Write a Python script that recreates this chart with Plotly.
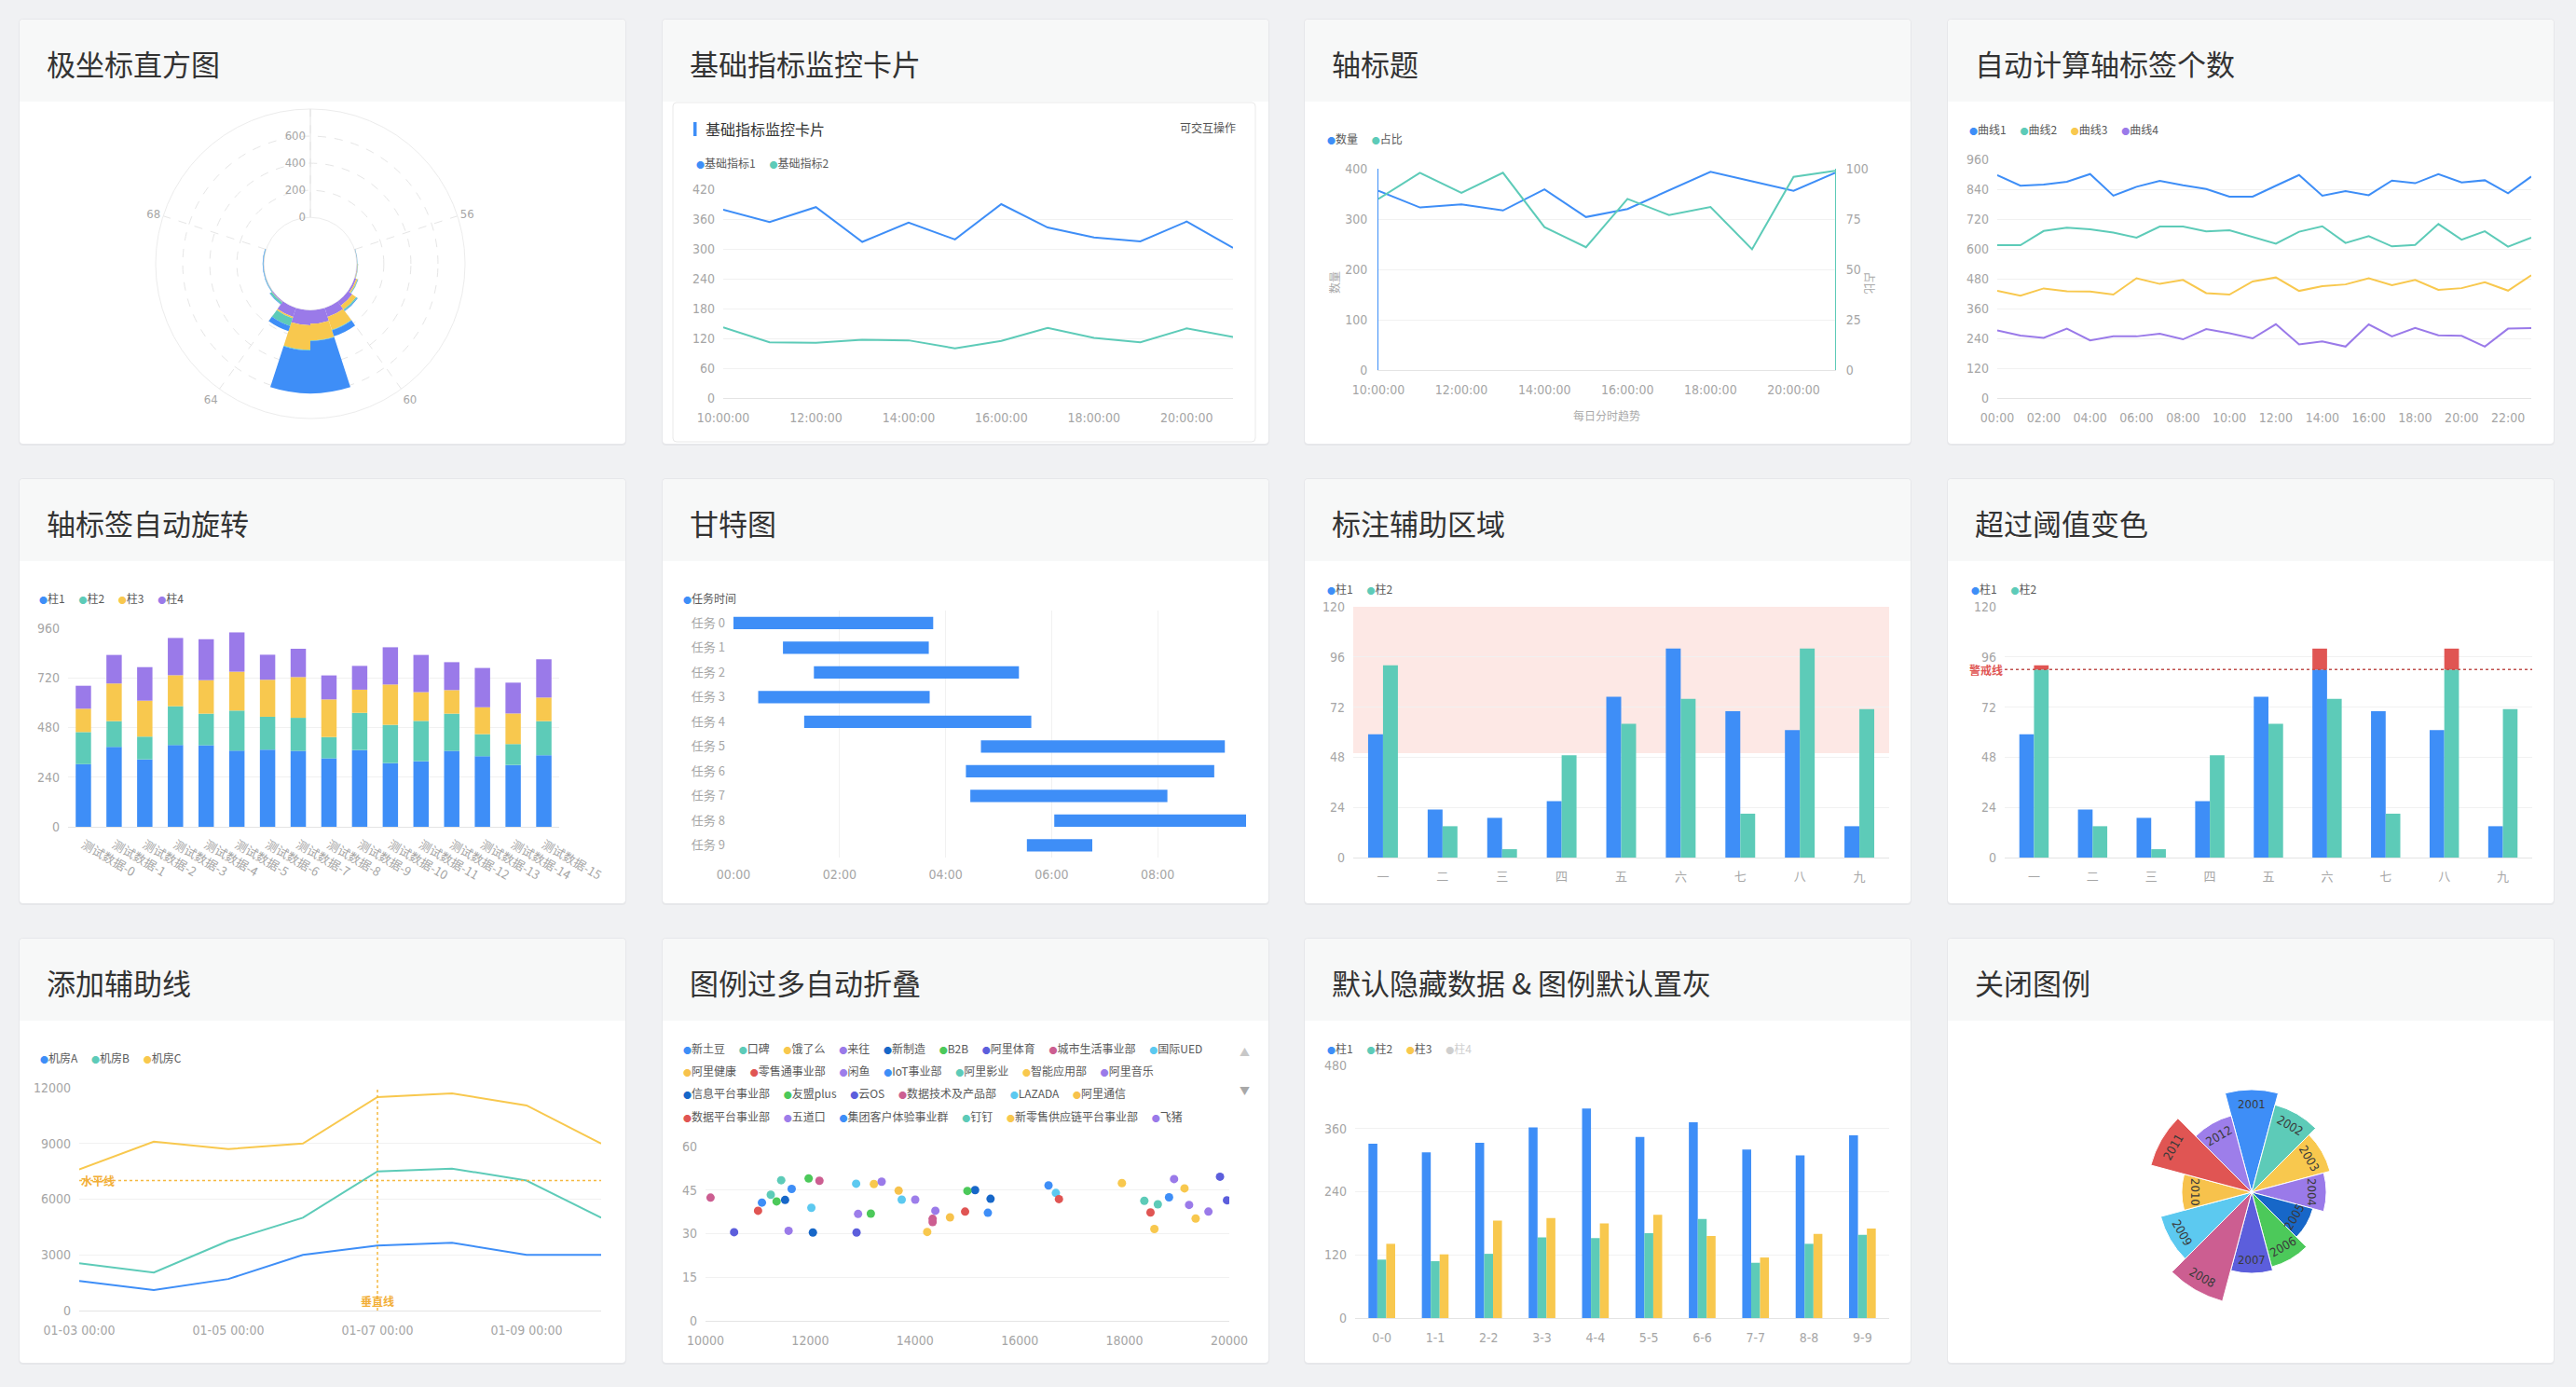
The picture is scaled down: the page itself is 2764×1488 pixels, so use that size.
import math
import plotly.graph_objects as go

W, H = 2764, 1488
def fx(x): return x / W
def fy(y): return 1 - y / H

# ---------------- data ----------------
TITLES = ["极坐标直方图", "基础指标监控卡片", "轴标题", "自动计算轴标签个数",
          "轴标签自动旋转", "甘特图", "标注辅助区域", "超过阈值变色",
          "添加辅助线", "图例过多自动折叠", "默认隐藏数据 & 图例默认置灰", "关闭图例"]

# P1 polar histogram (bin centers, stacked series)
p1_bins = [56.5, 57.5, 58.5, 59.5, 60.5, 61.5, 62.5, 63.5, 64.5, 65.5, 66.5, 67.5]
p1_s4 = [2, 4, 14, 40, 70, 100, 112, 70, 8, 3, 2, 2]
p1_s3 = [1, 3, 10, 35, 100, 123, 181, 10, 2, 1, 1, 1]
p1_s2 = [2, 2, 4, 10, 5, 5, 5, 60, 15, 4, 3, 3]
p1_s1 = [1, 1, 2, 5, 45, 387, 317, 40, 5, 3, 4, 4]
p1_ticks = [52, 56, 60, 64, 68]

# P2
p2_hours = list(range(10, 22))
p2_s1 = [379, 354, 384, 314, 353, 319, 390, 343, 323, 315, 355, 302]
p2_s2 = [142, 112, 111, 117, 116, 100, 115, 141, 121, 112, 140, 123]

# P3
p3_hours = list(range(10, 22))
p3_count = [356, 323, 329, 317, 359, 304, 320, 357, 394, 375, 356, 392]
p3_ratio = [85, 98, 88, 98, 71, 61, 85, 77, 81, 60, 96, 99]

# P4
p4_hours = list(range(0, 24))
p4_c1 = [897, 854, 859, 870, 901, 814, 850, 874, 856, 841, 810, 810, 854, 897, 814, 832, 816, 875, 864, 901, 867, 876, 824, 891]
p4_c2 = [615, 615, 672, 685, 679, 666, 645, 690, 690, 670, 675, 647, 621, 669, 691, 624, 651, 610, 616, 700, 637, 671, 609, 645]
p4_c3 = [431, 412, 441, 429, 428, 416, 482, 459, 475, 422, 416, 469, 485, 431, 450, 457, 482, 454, 475, 435, 442, 466, 432, 494]
p4_c4 = [272, 251, 242, 279, 232, 248, 248, 259, 236, 277, 261, 240, 297, 216, 228, 207, 296, 248, 282, 252, 250, 207, 279, 281]

# P5
p5_cats = [f"测试数据-{i}" for i in range(16)]
p5_s1 = [303, 386, 326, 395, 394, 368, 373, 367, 331, 371, 308, 317, 367, 341, 299, 346]
p5_s2 = [155, 125, 110, 188, 153, 194, 159, 160, 103, 180, 185, 195, 180, 107, 101, 165]
p5_s3 = [113, 182, 174, 150, 162, 188, 179, 197, 182, 112, 195, 139, 114, 130, 148, 114]
p5_s4 = [111, 138, 162, 180, 198, 190, 121, 137, 116, 115, 180, 180, 135, 190, 149, 185]

# P6 gantt
p6_tasks = [f"任务 {i}" for i in range(10)]
p6_start = ["00:00", "00:56", "01:31", "00:28", "01:20", "04:40", "04:23", "04:28", "06:03", "05:32"]
p6_end = ["03:46", "03:41", "05:23", "03:42", "05:37", "09:16", "09:04", "08:11", "09:40", "06:46"]

# P7 / P8
cats9 = ["一", "二", "三", "四", "五", "六", "七", "八", "九"]
bar1 = [59, 23, 19, 27, 77, 100, 70, 61, 15]
bar2 = [92, 15, 4, 49, 64, 76, 21, 100, 71]
p7_region = [50, 120]
p8_threshold = 90

# P9
p9_dates = ["2024-01-03", "2024-01-04", "2024-01-05", "2024-01-06",
            "2024-01-07", "2024-01-08", "2024-01-09", "2024-01-10"]
roomA = [1600, 1100, 1700, 3000, 3500, 3650, 3000, 3000]
roomB = [2550, 2050, 3750, 5000, 7500, 7650, 7000, 5000]
roomC = [7600, 9100, 8700, 9000, 11500, 11700, 11050, 9000]
p9_hline = 7000
p9_vline = "2024-01-07"

# P10 scatter (series -> points)
p10_names = ["新土豆", "口碑", "饿了么", "来往", "新制造", "B2B", "阿里体育", "城市生活事业部", "国际UED",
             "阿里健康", "零售通事业部", "闲鱼", "IoT事业部", "阿里影业", "智能应用部", "阿里音乐",
             "信息平台事业部", "友盟plus", "云OS", "数据技术及产品部", "LAZADA", "阿里通信",
             "数据平台事业部", "五道口", "集团客户体验事业群", "钉钉", "新零售供应链平台事业部", "飞猪"]
p10_x = [[11077, 16549], [11246, 18378], [13215, 17950], [11586, 18946], [11519, 15147], [11357, 15000],
         [10546, 19823], [10096, 14336], [12021, 16689], [13687], [11003, 16748], [12913], [11645, 18850],
         [11445], [14233, 19145], [13363, 19233], [12050, 15442], [11969, 13156], [12884, 19956],
         [12175, 14336], [12876, 13746], [14668], [14956, 18496], [14004], [15391], [18636],
         [18570, 19358], [14388, 19602]]
p10_y = [[40.7, 46.6], [43.4, 41.3], [47.1, 47.4], [31.0, 48.8], [41.6, 45.0], [41.1, 44.7],
         [30.5, 49.6], [42.4, 35.1], [38.9, 44.0], [44.8], [37.9, 41.9], [36.8], [45.4, 42.5],
         [48.4], [30.6, 45.6], [47.9, 39.9], [30.4, 42.0], [49.0, 36.9], [30.4, 41.5],
         [48.2, 34.0], [47.2, 41.7], [35.6], [37.6, 37.3], [41.7], [37.2], [40.1],
         [31.6, 35.2], [37.9, 37.6]]
p10_rows = [9, 7, 6, 6]

# P11
cats10 = [f"{i}-{i}" for i in range(10)]
p11_s1 = [331, 315, 333, 362, 398, 344, 372, 320, 309, 347]
p11_s2 = [111, 108, 122, 153, 152, 161, 188, 105, 141, 158]
p11_s3 = [141, 121, 185, 190, 180, 196, 156, 115, 160, 170]

# P12 rose
years = [str(y) for y in range(2001, 2013)]
rose = [110, 97, 87, 80, 68, 83, 87, 121, 101, 75, 112, 85]

# ---------------- style ----------------
PAGE_BG = "#f0f1f3"
HEAD_BG = "#f7f8f8"
TITLE_C = "#333333"
TICK_C = "#a6a6a6"
GRID_C = "#f1f1f1"
AXLINE_C = "#e4e4e4"
LEG_C = "#595959"
CJK = "Noto Sans CJK SC"
NUM = "Liberation Sans Narrow, DejaVu Sans Condensed, Noto Sans CJK SC"

BLUE = "#3E8EF7"; TEAL = "#5DCBB8"; YELLOW = "#F8C84E"; PURPLE = "#9A7AE9"
DBLUE = "#1767C8"; GREEN = "#4CC95A"; INDIGO = "#5C5EDC"; PINK = "#CC5E91"
LBLUE = "#5CC9F0"; ORANGE = "#F7C24C"; RED = "#E05553"; PURPLE2 = "#9D7EEA"
PALETTE = [BLUE, TEAL, YELLOW, PURPLE, DBLUE, GREEN, INDIGO, PINK, LBLUE, ORANGE, RED, PURPLE2]

COLS = [21, 711, 1400, 2090]
ROWS = [21, 514, 1007]
CW, CH, HEAD = 650, 455, 88

fig = go.Figure()
shapes = []
annos = []

def rpath(x0, y0, x1, y1, r, top_only=False):
    def P(x, y): return f"{fx(x):.6f},{fy(y):.6f}"
    if top_only:
        return (f"M {P(x0, y1)} L {P(x0, y0 + r)} Q {P(x0, y0)} {P(x0 + r, y0)} "
                f"L {P(x1 - r, y0)} Q {P(x1, y0)} {P(x1, y0 + r)} L {P(x1, y1)} Z")
    return (f"M {P(x0 + r, y0)} L {P(x1 - r, y0)} Q {P(x1, y0)} {P(x1, y0 + r)} "
            f"L {P(x1, y1 - r)} Q {P(x1, y1)} {P(x1 - r, y1)} L {P(x0 + r, y1)} "
            f"Q {P(x0, y1)} {P(x0, y1 - r)} L {P(x0, y0 + r)} Q {P(x0, y0)} {P(x0 + r, y0)} Z")

# cards
k = 0
for r in ROWS:
    for c in COLS:
        shapes.append(dict(type="path", path=rpath(c - 1, r - 1, c + CW + 1, r + CH + 2, 5),
                           xref="paper", yref="paper", fillcolor="#e6e7ea", line=dict(width=0), layer="below"))
        shapes.append(dict(type="path", path=rpath(c, r, c + CW, r + CH, 4),
                           xref="paper", yref="paper", fillcolor="#ffffff", line=dict(width=0), layer="below"))
        shapes.append(dict(type="path", path=rpath(c, r, c + CW, r + HEAD, 4, top_only=True),
                           xref="paper", yref="paper", fillcolor=HEAD_BG, line=dict(width=0), layer="below"))
        annos.append(dict(x=fx(c + 27), y=fy(r + 46), xref="paper", yref="paper", text=TITLES[k],
                          xanchor="left", yanchor="middle", showarrow=False,
                          font=dict(family=CJK, size=31, color=TITLE_C)))
        k += 1

def legend(x, y, items, gap="\u3000\u00a0"):
    parts = []
    for col, lab, lc in items:
        parts.append(f"<span style='color:{col};font-size:9px'>●</span><span style='color:{lc}'>{lab}</span>")
    annos.append(dict(x=fx(x), y=fy(y), xref="paper", yref="paper", text=gap.join(parts),
                      xanchor="left", yanchor="middle", showarrow=False,
                      font=dict(family=CJK, size=12, color=LEG_C)))

def tickfont(size=14, fam=NUM):
    return dict(family=fam, size=size, color=TICK_C)

def xa(l, r, anchor, **kw):
    d = dict(domain=[fx(l), fx(r)], anchor=anchor, showgrid=False, zeroline=False, showline=True,
             linecolor=AXLINE_C, linewidth=1, ticks="", tickfont=tickfont(), ticklabelstandoff=8,
             fixedrange=True, automargin=False)
    d.update(kw)
    return d

def ya(b, t, anchor, **kw):
    d = dict(domain=[fy(b), fy(t)], anchor=anchor, showgrid=True, gridcolor=GRID_C, gridwidth=1,
             zeroline=False, showline=False, ticks="", tickfont=tickfont(), ticklabelstandoff=8,
             fixedrange=True, automargin=False)
    d.update(kw)
    return d

layout_axes = {}

# ---------------- P1 polar histogram ----------------
p1_theta = [(b - p1_ticks[0]) * 18 for b in p1_bins]
for vals, col in [(p1_s4, PURPLE), (p1_s3, YELLOW), (p1_s2, TEAL), (p1_s1, BLUE)]:
    fig.add_trace(go.Barpolar(r=vals, theta=p1_theta, width=[18] * len(p1_bins), marker_color=col,
                              marker_line_width=0, subplot="polar", showlegend=False))
polar1 = dict(
    domain=dict(x=[fx(167), fx(499)], y=[fy(449), fy(117)]),
    hole=0.30, bgcolor="rgba(0,0,0,0)",
    radialaxis=dict(range=[0, 800], tickvals=[0, 200, 400, 600], angle=90, side="counterclockwise",
                    tickangle=90,
                    showline=True, linecolor="#e2e2e2", gridcolor="#e6e6e6", griddash="dash",
                    ticks="", tickfont=tickfont(13), layer="below traces"),
    angularaxis=dict(rotation=90, direction="clockwise",
                     tickvals=[(t - p1_ticks[0]) * 18 for t in p1_ticks],
                     ticktext=[""] + [str(t) for t in p1_ticks[1:]],
                     showline=True, linecolor="#ececec", gridcolor="#e6e6e6", griddash="dash",
                     ticks="", tickfont=tickfont(13), layer="below traces"),
    barmode="stack",
)

# ---------------- P2 ----------------
shapes.append(dict(type="path", path=rpath(722, 110, 1347, 474, 4), xref="paper", yref="paper",
                   fillcolor="#ffffff", line=dict(color="#e9e9e9", width=1), layer="below"))
shapes.append(dict(type="rect", x0=fx(744), x1=fx(747.5), y0=fy(146), y1=fy(131), xref="paper", yref="paper",
                   fillcolor=BLUE, line=dict(width=0), layer="below"))
annos.append(dict(x=fx(755), y=fy(138), xref="paper", yref="paper", text="基础指标监控卡片",
                  xanchor="left", yanchor="middle", showarrow=False, font=dict(family=CJK, size=16, color="#333")))
annos.append(dict(x=fx(1328), y=fy(136), xref="paper", yref="paper", text="可交互操作",
                  xanchor="right", yanchor="middle", showarrow=False, font=dict(family=CJK, size=12, color="#555")))
legend(745, 174, [(BLUE, "基础指标1", LEG_C), (TEAL, "基础指标2", LEG_C)])
t2 = [f"2024-01-01 {h:02d}:00:00" for h in p2_hours]
fig.add_trace(go.Scatter(x=t2, y=p2_s1, mode="lines", line=dict(color=BLUE, width=2), xaxis="x", yaxis="y"))
fig.add_trace(go.Scatter(x=t2, y=p2_s2, mode="lines", line=dict(color=TEAL, width=2), xaxis="x", yaxis="y"))
layout_axes["xaxis"] = xa(776, 1323, "y", type="date", range=[t2[0], t2[-1]], dtick=7200000,
                          tick0=t2[0], tickformat="%H:%M:%S")
layout_axes["yaxis"] = ya(427, 203, "x", range=[0, 420], dtick=60)

# ---------------- P3 ----------------
legend(1422, 148, [(BLUE, "数量", LEG_C), (TEAL, "占比", LEG_C)])
t3 = [f"2024-01-01 {h:02d}:00:00" for h in p3_hours]
fig.add_trace(go.Scatter(x=t3, y=p3_count, mode="lines", line=dict(color=BLUE, width=2), xaxis="x2", yaxis="y2"))
fig.add_trace(go.Scatter(x=t3, y=p3_ratio, mode="lines", line=dict(color=TEAL, width=2), xaxis="x2", yaxis="y3"))
layout_axes["xaxis2"] = xa(1479, 1969, "y2", type="date", range=[t3[0], t3[-1]], dtick=7200000,
                           tick0=t3[0], tickformat="%H:%M:%S")
layout_axes["yaxis2"] = ya(397, 181, "x2", range=[0, 400], dtick=100, showline=True, linecolor=BLUE, linewidth=1)
layout_axes["yaxis3"] = dict(overlaying="y2", side="right", anchor="x2", range=[0, 100], dtick=25,
                             showgrid=False, zeroline=False, showline=True, linecolor=TEAL, linewidth=1,
                             ticks="", tickfont=tickfont(), ticklabelstandoff=8, fixedrange=True,
                             automargin=False)
annos.append(dict(x=fx(1431), y=fy(289), xref="paper", yref="paper", text="数量", textangle=-90,
                  showarrow=False, font=dict(family=CJK, size=12, color="#aaa")))
annos.append(dict(x=fx(2017), y=fy(289), xref="paper", yref="paper", text="占比", textangle=90,
                  showarrow=False, font=dict(family=CJK, size=12, color="#aaa")))
annos.append(dict(x=fx(1724), y=fy(435), xref="paper", yref="paper", text="每日分时趋势",
                  showarrow=False, font=dict(family=CJK, size=12, color="#aaa")))

# ---------------- P4 ----------------
legend(2111, 138, [(BLUE, "曲线1", LEG_C), (TEAL, "曲线2", LEG_C), (YELLOW, "曲线3", LEG_C), (PURPLE, "曲线4", LEG_C)])
t4 = [f"2024-01-01 {h:02d}:00:00" for h in p4_hours]
for vals, col in [(p4_c1, BLUE), (p4_c2, TEAL), (p4_c3, YELLOW), (p4_c4, PURPLE)]:
    fig.add_trace(go.Scatter(x=t4, y=vals, mode="lines", line=dict(color=col, width=2), xaxis="x3", yaxis="y4"))
layout_axes["xaxis3"] = xa(2143, 2716, "y4", type="date", range=[t4[0], t4[-1]], dtick=7200000,
                           tick0=t4[0], tickformat="%H:%M")
layout_axes["yaxis4"] = ya(427, 171, "x3", range=[0, 960], dtick=120)

# ---------------- P5 stacked (explicit bases) ----------------
legend(40, 641, [(BLUE, "柱1", LEG_C), (TEAL, "柱2", LEG_C), (YELLOW, "柱3", LEG_C), (PURPLE, "柱4", LEG_C)])
base = [0] * len(p5_cats)
for vals, col in [(p5_s1, BLUE), (p5_s2, TEAL), (p5_s3, YELLOW), (p5_s4, PURPLE)]:
    fig.add_trace(go.Bar(x=p5_cats, y=vals, base=list(base), marker_color=col, marker_line_width=0,
                         offsetgroup="p5", xaxis="x4", yaxis="y5"))
    base = [b + v for b, v in zip(base, vals)]
layout_axes["xaxis4"] = xa(73, 600, "y5", type="category", range=[-0.5, len(p5_cats) - 0.5],
                           tickangle=30, tickfont=tickfont(13, CJK), ticklabelstandoff=6)
layout_axes["yaxis5"] = ya(887, 674, "x4", range=[0, 960], dtick=240)

# ---------------- P6 gantt ----------------
legend(731, 641, [(BLUE, "任务时间", LEG_C)])
def tmin(s):
    h, m = s.split(":")
    return int(h) * 60 + int(m)
p6_base = [f"2024-01-01 {s}:00" for s in p6_start]
p6_dur = [(tmin(e) - tmin(s)) * 60000 for s, e in zip(p6_start, p6_end)]
fig.add_trace(go.Bar(y=p6_tasks, x=p6_dur, base=p6_base, orientation="h", marker_color=BLUE,
                     marker_line_width=0, xaxis="x5", yaxis="y6"))
layout_axes["xaxis5"] = xa(787, 1337, "y6", type="date", range=["2024-01-01 00:00", "2024-01-01 09:40"],
                           dtick=7200000, tick0="2024-01-01 00:00", tickformat="%H:%M",
                           showgrid=True, gridcolor=GRID_C, showline=False)
layout_axes["yaxis6"] = ya(920, 655, "x5", type="category", autorange="reversed", showgrid=False,
                           tickfont=tickfont(13, CJK))

# ---------------- P7 ----------------
legend(1422, 631, [(BLUE, "柱1", LEG_C), (TEAL, "柱2", LEG_C)])
shapes.append(dict(type="rect", xref="x6 domain", yref="y7", x0=0, x1=1, y0=p7_region[0], y1=p7_region[1],
                   fillcolor="#fde8e5", line=dict(width=0), layer="below"))
fig.add_trace(go.Bar(x=cats9, y=bar1, marker_color=BLUE, marker_line_width=0, xaxis="x6", yaxis="y7"))
fig.add_trace(go.Bar(x=cats9, y=bar2, marker_color=TEAL, marker_line_width=0, xaxis="x6", yaxis="y7"))
layout_axes["xaxis6"] = xa(1452, 2027, "y7", type="category", range=[-0.5, 8.5], tickfont=tickfont(13, CJK))
layout_axes["yaxis7"] = ya(920, 651, "x6", range=[0, 120], dtick=24)

# ---------------- P8 threshold ----------------
legend(2113, 631, [(BLUE, "柱1", LEG_C), (TEAL, "柱2", LEG_C)])
for vals, col, g in [(bar1, BLUE, "a"), (bar2, TEAL, "b")]:
    low = [min(v, p8_threshold) for v in vals]
    high = [max(v - p8_threshold, 0) for v in vals]
    fig.add_trace(go.Bar(x=cats9, y=low, marker_color=col, marker_line_width=0, offsetgroup=g,
                         xaxis="x7", yaxis="y8"))
    fig.add_trace(go.Bar(x=cats9, y=high, base=[p8_threshold] * len(vals), marker_color=RED,
                         marker_line_width=0, offsetgroup=g, xaxis="x7", yaxis="y8"))
shapes.append(dict(type="line", xref="x7 domain", yref="y8", x0=0, x1=1, y0=p8_threshold, y1=p8_threshold,
                   line=dict(color="#c0504d", width=1.5, dash="dot"), layer="above"))
annos.append(dict(xref="x7 domain", yref="y8", x=0, y=p8_threshold, text="<b>警戒线</b>", xanchor="right",
                  yanchor="middle", showarrow=False, font=dict(family=CJK, size=12, color=RED)))
layout_axes["xaxis7"] = xa(2151, 2717, "y8", type="category", range=[-0.5, 8.5], tickfont=tickfont(13, CJK))
layout_axes["yaxis8"] = ya(920, 651, "x7", range=[0, 120], dtick=24)

# ---------------- P9 ----------------
legend(41, 1134, [(BLUE, "机房A", LEG_C), (TEAL, "机房B", LEG_C), (YELLOW, "机房C", LEG_C)])
for vals, col in [(roomA, BLUE), (roomB, TEAL), (roomC, YELLOW)]:
    fig.add_trace(go.Scatter(x=p9_dates, y=vals, mode="lines", line=dict(color=col, width=2),
                             xaxis="x8", yaxis="y9"))
shapes.append(dict(type="line", xref="x8 domain", yref="y9", x0=0, x1=1, y0=p9_hline, y1=p9_hline,
                   line=dict(color="#F5B940", width=1.5, dash="dot"), layer="above"))
shapes.append(dict(type="line", xref="x8", yref="y9 domain", x0=p9_vline, x1=p9_vline, y0=0, y1=1,
                   line=dict(color="#F5B940", width=1.5, dash="dot"), layer="above"))
annos.append(dict(xref="x8 domain", yref="y9", x=0, y=p9_hline, text="<b>水平线</b>", xanchor="left",
                  yanchor="middle", showarrow=False, font=dict(family=CJK, size=12, color="#F2AE36")))
annos.append(dict(xref="x8", yref="y9 domain", x=p9_vline, y=0, text="<b>垂直线</b>", xanchor="center",
                  yanchor="bottom", showarrow=False, font=dict(family=CJK, size=12, color="#F2AE36")))
layout_axes["xaxis8"] = xa(85, 645, "y9", type="date", range=[p9_dates[0], p9_dates[-1]],
                           dtick=172800000, tick0=p9_dates[0], tickformat="%m-%d %H:%M")
layout_axes["yaxis9"] = ya(1406, 1167, "x8", range=[0, 12000], dtick=3000, tickformat="d")

# ---------------- P10 ----------------
idx = 0
row_y = [1124, 1148, 1172, 1197]
for rn, cnt in enumerate(p10_rows):
    items = [(PALETTE[i % 12], p10_names[i], LEG_C) for i in range(idx, idx + cnt)]
    legend(731, row_y[rn], items)
    idx += cnt
annos.append(dict(x=fx(1335), y=fy(1138), xref="paper", yref="paper", text="▲", showarrow=False,
                  font=dict(family=CJK, size=11, color="#c8c8c8")))
annos.append(dict(x=fx(1335), y=fy(1180), xref="paper", yref="paper", text="▼", showarrow=False,
                  font=dict(family=CJK, size=11, color="#a8a8a8")))
for i, name in enumerate(p10_names):
    fig.add_trace(go.Scatter(x=p10_x[i], y=p10_y[i], mode="markers", name=name,
                             marker=dict(color=PALETTE[i % 12], size=9, line=dict(width=0)),
                             xaxis="x9", yaxis="y10"))
layout_axes["xaxis9"] = xa(757, 1319, "y10", range=[10000, 20000], dtick=2000, tickformat="d")
layout_axes["yaxis10"] = ya(1417, 1230, "x9", range=[0, 60], dtick=15)

# ---------------- P11 ----------------
legend(1422, 1124, [(BLUE, "柱1", LEG_C), (TEAL, "柱2", LEG_C), (YELLOW, "柱3", LEG_C), ("#cfcfcf", "柱4", "#cfcfcf")])
for vals, col in [(p11_s1, BLUE), (p11_s2, TEAL), (p11_s3, YELLOW)]:
    fig.add_trace(go.Bar(x=cats10, y=vals, marker_color=col, marker_line_width=0, xaxis="x10", yaxis="y11"))
layout_axes["xaxis10"] = xa(1454, 2027, "y11", type="category", range=[-0.5, 9.5])
layout_axes["yaxis11"] = ya(1414, 1143, "x10", range=[0, 480], dtick=120)

# ---------------- P12 rose ----------------
p12_theta = [30 * i for i in range(len(years))]
fig.add_trace(go.Barpolar(r=rose, theta=p12_theta, width=[30] * len(years),
                          marker=dict(color=PALETTE[:len(years)], line=dict(color="#ffffff", width=1)),
                          subplot="polar2"))
RC = max(rose)
cx, cy = 2416, 1279
polar2 = dict(domain=dict(x=[fx(cx - RC), fx(cx + RC)], y=[fy(cy + RC), fy(cy - RC)]), hole=0,
              bgcolor="rgba(0,0,0,0)",
              radialaxis=dict(range=[0, RC], visible=False),
              angularaxis=dict(rotation=90, direction="clockwise", visible=False))
for yr, rv, th in zip(years, rose, p12_theta):
    rr = rv - 15
    lx = cx + rr * math.sin(math.radians(th))
    ly = cy - rr * math.cos(math.radians(th))
    ang = th if th <= 90 else (th - 180 if th <= 270 else th - 360)
    annos.append(dict(x=fx(lx), y=fy(ly), xref="paper", yref="paper", text=yr, textangle=ang,
                      showarrow=False, xanchor="center", yanchor="middle",
                      font=dict(family=NUM, size=13, color="#3a3a3a")))

fig.update_layout(
    width=W, height=H, autosize=False,
    margin=dict(l=0, r=0, t=0, b=0, pad=0, autoexpand=False),
    paper_bgcolor=PAGE_BG, plot_bgcolor="rgba(0,0,0,0)",
    showlegend=False, barmode="group", bargap=0.5, bargroupgap=0,
    polar=polar1, polar2=polar2,
    shapes=shapes, annotations=annos,
    hovermode=False,
    **layout_axes,
)

fig.write_html("out.html", config={"displayModeBar": False, "responsive": False},
               post_script="document.body.style.margin='0';document.body.style.overflow='hidden';")
